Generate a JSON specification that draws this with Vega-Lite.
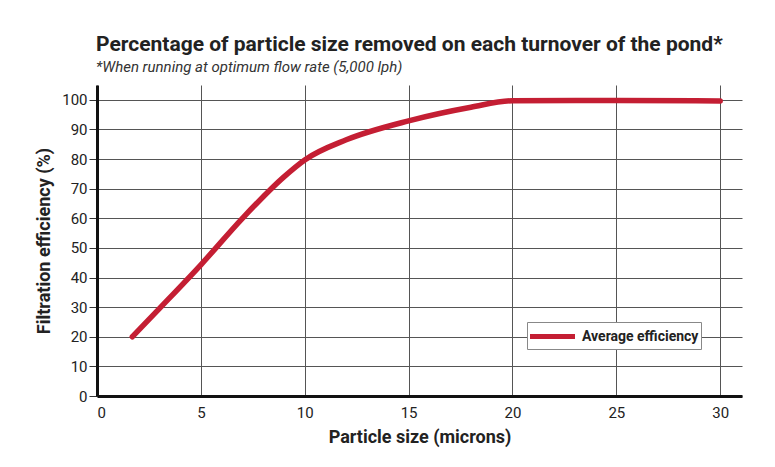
{
  "$schema": "https://vega.github.io/schema/vega-lite/v6.json",
  "autosize": {"type": "none"},
  "width": 645,
  "height": 311,
  "padding": {"left": 97, "top": 85, "right": 33, "bottom": 71},
  "background": "white",
  "title": {
    "text": "Percentage of particle size removed on each turnover of the pond*",
    "subtitle": "*When running at optimum flow rate (5,000 lph)",
    "anchor": "start",
    "frame": "group",
    "font": "Roboto",
    "fontSize": 21,
    "fontWeight": "bold",
    "color": "#222222",
    "subtitleFont": "Roboto",
    "subtitleFontSize": 15,
    "subtitleFontStyle": "italic",
    "subtitleColor": "#333333",
    "subtitlePadding": 5,
    "offset": 10,
    "dx": -1
  },
  "data": {
    "values": [
      {"size": 1.7, "eff": 20, "series": "Average efficiency"},
      {"size": 3, "eff": 29.5, "series": "Average efficiency"},
      {"size": 5, "eff": 44.3, "series": "Average efficiency"},
      {"size": 7, "eff": 60, "series": "Average efficiency"},
      {"size": 9, "eff": 74, "series": "Average efficiency"},
      {"size": 10, "eff": 79.7, "series": "Average efficiency"},
      {"size": 12, "eff": 86.5, "series": "Average efficiency"},
      {"size": 15, "eff": 92.9, "series": "Average efficiency"},
      {"size": 18, "eff": 97.5, "series": "Average efficiency"},
      {"size": 20, "eff": 99.7, "series": "Average efficiency"},
      {"size": 25, "eff": 99.8, "series": "Average efficiency"},
      {"size": 30, "eff": 99.6, "series": "Average efficiency"}
    ]
  },
  "mark": {"type": "line", "interpolate": "monotone", "strokeWidth": 5.5, "strokeCap": "round"},
  "encoding": {
    "x": {
      "field": "size",
      "type": "quantitative",
      "scale": {"domain": [0, 31.05], "nice": false},
      "axis": {
        "title": "Particle size (microns)",
        "values": [0, 5, 10, 15, 20, 25, 30],
        "ticks": false,
        "labelPadding": 9,
        "titlePadding": 8
      }
    },
    "y": {
      "field": "eff",
      "type": "quantitative",
      "scale": {"domain": [0, 105], "nice": false},
      "axis": {
        "title": "Filtration efficiency (%)",
        "values": [0, 10, 20, 30, 40, 50, 60, 70, 80, 90, 100],
        "ticks": true,
        "tickSize": 8,
        "tickColor": "#333333",
        "labelPadding": 2,
        "titlePadding": 8
      }
    },
    "color": {
      "field": "series",
      "type": "nominal",
      "scale": {"range": ["#c41e33"]},
      "legend": {
        "title": null,
        "orient": "none",
        "legendX": 430,
        "legendY": 237,
        "symbolType": "M-2.25,0L2.25,0",
        "symbolSize": 400,
        "symbolStrokeWidth": 5,
        "symbolOffset": 11,
        "symbolFillColor": "transparent",
        "labelOffset": 17,
        "fillColor": "white",
        "strokeColor": "#888888",
        "padding": 2,
        "labelFont": "Roboto",
        "labelFontSize": 14,
        "labelFontWeight": "bold",
        "labelColor": "#222222"
      }
    }
  },
  "config": {
    "view": {"stroke": null},
    "axis": {
      "grid": true,
      "gridColor": "#555555",
      "gridWidth": 1,
      "gridOpacity": 1,
      "domainColor": "#111111",
      "domainWidth": 3,
      "labelFont": "Roboto",
      "labelFontSize": 15,
      "labelColor": "#222222",
      "titleFont": "Roboto",
      "titleFontSize": 18,
      "titleFontWeight": "bold",
      "titleColor": "#222222"
    }
  }
}
